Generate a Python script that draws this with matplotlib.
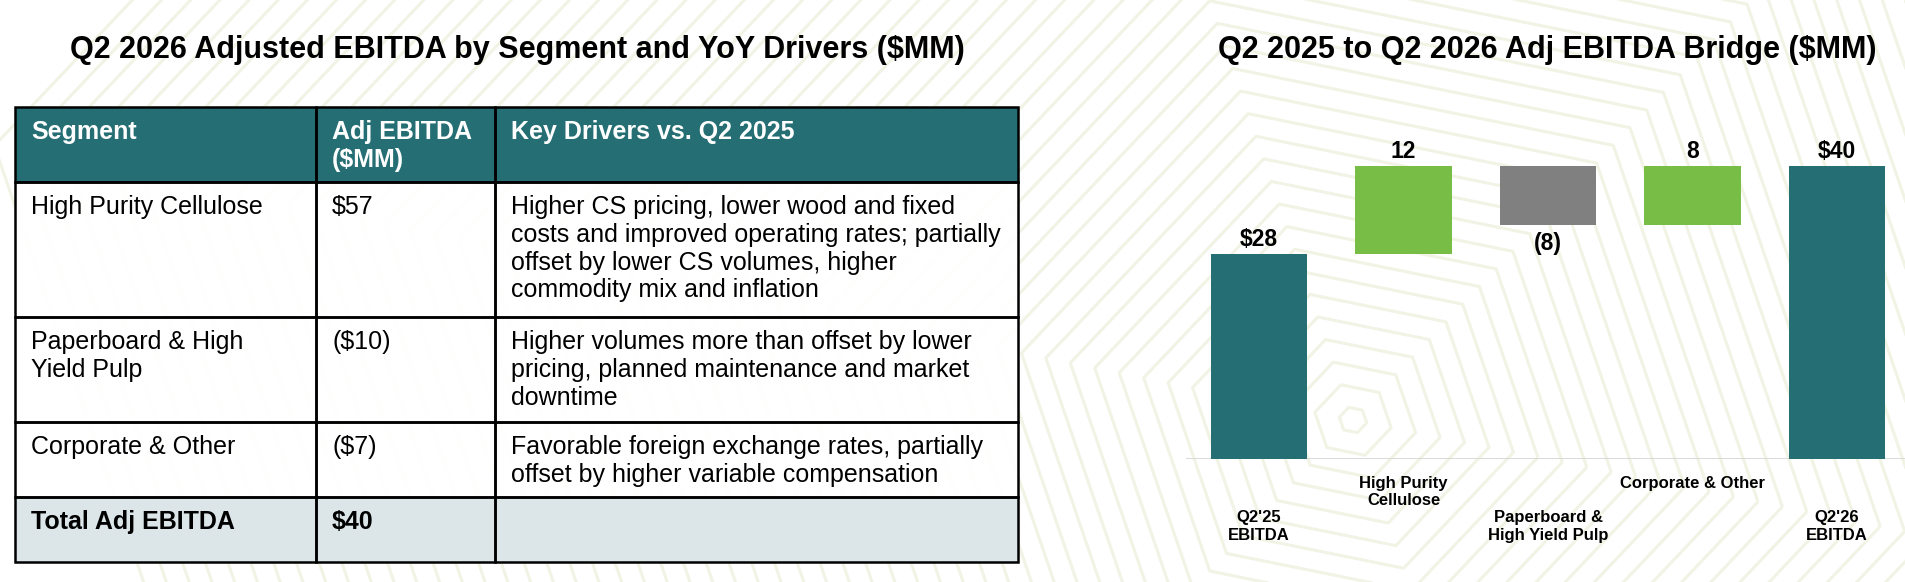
import numpy as np
import matplotlib
matplotlib.use("Agg")
from matplotlib import pyplot as plt
from matplotlib.patches import Rectangle, Polygon

plt.rcParams['font.family'] = ['Liberation Sans', 'DejaVu Sans']

# ---- data ----
table_header = ["Segment", "Adj EBITDA\n($MM)", "Key Drivers vs. Q2 2025"]
segments = ["High Purity Cellulose", "Paperboard & High\nYield Pulp", "Corporate & Other"]
segment_values = ["$57", "($10)", "($7)"]
drivers = [
    "Higher CS pricing, lower wood and fixed\ncosts and improved operating rates; partially\n"
    "offset by lower CS volumes, higher\ncommodity mix and inflation",
    "Higher volumes more than offset by lower\npricing, planned maintenance and market\ndowntime",
    "Favorable foreign exchange rates, partially\noffset by higher variable compensation",
]
total_label = "Total Adj EBITDA"
total_value = "$40"

bridge_labels = ["Q2'25\nEBITDA", "High Purity\nCellulose", "Paperboard &\nHigh Yield Pulp",
                 "Corporate & Other", "Q2'26\nEBITDA"]
bridge_values = [28, 12, -8, 8, 40]
bridge_kind = ["total", "delta", "delta", "delta", "total"]

TEAL = "#256E73"
GREEN = "#78BD45"
GREY = "#808080"
TOTAL_BG = "#DCE6E8"

W, H = 1905, 582
fig = plt.figure(figsize=(W / 100, H / 100), dpi=100)
fig.patch.set_facecolor("white")

# background axes in pixel coordinates
bg = fig.add_axes([0, 0, 1, 1])
bg.set_xlim(0, W)
bg.set_ylim(H, 0)
bg.axis("off")

# faint hexagon pattern behind everything
cx, cy = 1353, 420
rot = np.deg2rad(12)
ang = np.deg2rad(np.arange(0, 360, 60)) + rot
for r in np.arange(14, 1400, 25):
    pts = np.column_stack([cx + r * np.cos(ang), cy + r * np.sin(ang) * 0.95])
    bg.add_patch(Polygon(pts, closed=True, fill=False, ec="#F1F3E5", lw=2.2,
                         joinstyle="round", zorder=0))

# ---- table ----
col_x = [15, 316, 495, 1018]
row_y = [107, 182, 317, 422, 497, 562]
fs = 18

rows = [table_header] + [[s, v, d] for s, v, d in zip(segments, segment_values, drivers)] \
       + [[total_label, total_value, ""]]
for i, row in enumerate(rows):
    top, bot = row_y[i], row_y[i + 1]
    if i == 0:
        fc, tc, fw = TEAL, "white", "bold"
    elif i == len(rows) - 1:
        fc, tc, fw = TOTAL_BG, "black", "bold"
    else:
        fc, tc, fw = "white", "black", "normal"
    for j, txt in enumerate(row):
        x0, x1 = col_x[j], col_x[j + 1]
        bg.add_patch(Rectangle((x0, top), x1 - x0, bot - top, fc=fc, ec="none",
                               alpha=0.95 if fc == "white" else 1, zorder=2))
        bg.add_patch(Rectangle((x0, top), x1 - x0, bot - top, fill=False, ec="black",
                               lw=1.8, zorder=3))
        bg.text(x0 + 16, top + 13, txt, fontsize=fs, color=tc, fontweight=fw,
                va="top", ha="left", linespacing=1.2, zorder=4)

# titles
fig.text(517 / W, 1 - 50 / H, "Q2 2026 Adjusted EBITDA by Segment and YoY Drivers ($MM)",
         fontsize=22, fontweight="bold", ha="center", va="center")
fig.text(1547 / W, 1 - 50 / H, "Q2 2025 to Q2 2026 Adj EBITDA Bridge ($MM)",
         fontsize=22, fontweight="bold", ha="center", va="center")

# ---- bridge ----
ax = fig.add_axes([1186 / W, (H - 459) / H, (W - 1186) / W, (459 - 100) / H])
ax.patch.set_alpha(0)
x = np.arange(len(bridge_values))
bottoms, heights, colors = [], [], []
running = 0
for v, k in zip(bridge_values, bridge_kind):
    if k == "total":
        bottoms.append(0)
        heights.append(v)
        colors.append(TEAL)
        running = v
    else:
        bottoms.append(running if v > 0 else running + v)
        heights.append(abs(v))
        colors.append(GREEN if v > 0 else GREY)
        running += v
ax.bar(x, heights, bottom=bottoms, width=0.665, color=colors, zorder=2)

for xi, v, k, b, h in zip(x, bridge_values, bridge_kind, bottoms, heights):
    if k == "total":
        lab = f"${v}"
    elif v > 0:
        lab = str(v)
    else:
        lab = f"({abs(v)})"
    if v >= 0:
        ax.annotate(lab, (xi, b + h), xytext=(0, 6), textcoords="offset points",
                    ha="center", va="baseline", fontsize=16.5, fontweight="bold")
    else:
        ax.annotate(lab, (xi, b), xytext=(0, -18), textcoords="offset points",
                    ha="center", va="baseline", fontsize=16.5, fontweight="bold")

ax.axhline(0, color="#D3D3D3", lw=1.2, zorder=1)
ax.set_xlim(-0.505, 4.47)
ax.set_ylim(0, 49)
ax.set_yticks([])
# alternate labels between an upper and a lower row
ticklabels = [("\n\n" + l if i % 2 == 0 else l) for i, l in enumerate(bridge_labels)]
ax.set_xticks(x, ticklabels, fontsize=12, fontweight="bold", linespacing=1.2)
ax.tick_params(axis="x", length=0, pad=12)
for s in ax.spines.values():
    s.set_visible(False)

fig.savefig("out.png", dpi=100)
